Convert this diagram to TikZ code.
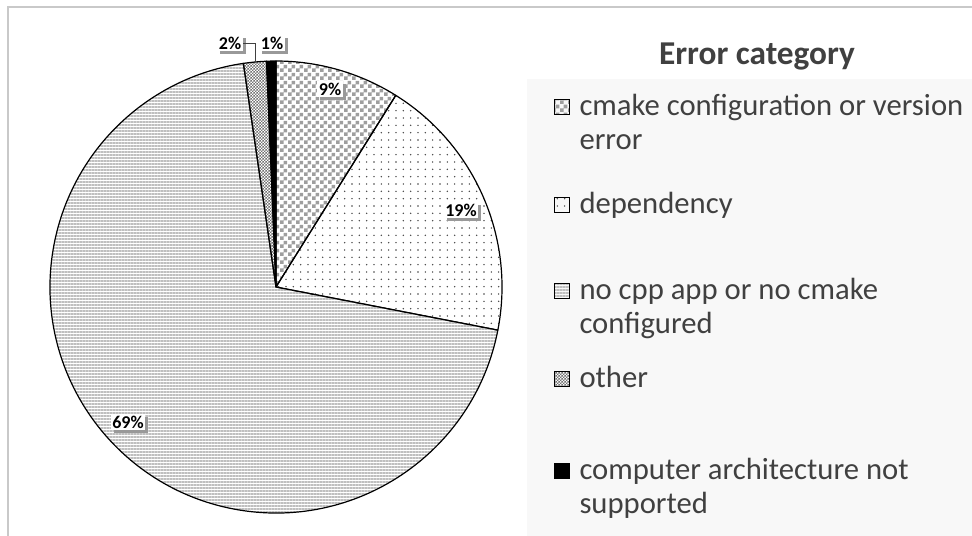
\documentclass[tikz,border=0pt]{standalone}
\usepackage{fontspec}
\setmainfont{Carlito}
\usetikzlibrary{patterns,patterns.meta,shadows,positioning}

\definecolor{framegray}{HTML}{C9C9C9}
\definecolor{legendbg}{HTML}{F8F8F8}
\definecolor{legendtxt}{HTML}{404040}

% checker fills for the slices
\pgfdeclarepatternformonly{coarse checker}{\pgfpointorigin}{\pgfqpoint{6pt}{6pt}}{\pgfqpoint{6pt}{6pt}}{%
  \pgfpathrectangle{\pgfpointorigin}{\pgfqpoint{3pt}{3pt}}%
  \pgfpathrectangle{\pgfqpoint{3pt}{3pt}}{\pgfqpoint{3pt}{3pt}}%
  \pgfusepath{fill}}
\pgfdeclarepatternformonly{fine checker}{\pgfpointorigin}{\pgfqpoint{2.2pt}{2.2pt}}{\pgfqpoint{2.2pt}{2.2pt}}{%
  \pgfpathrectangle{\pgfpointorigin}{\pgfqpoint{1.1pt}{1.1pt}}%
  \pgfpathrectangle{\pgfqpoint{1.1pt}{1.1pt}}{\pgfqpoint{1.1pt}{1.1pt}}%
  \pgfusepath{fill}}

\tikzset{every picture/.style={line width=0.75pt}}

\begin{document}
\begin{tikzpicture}[x=0.75pt,y=0.75pt,yscale=-1,xscale=1,
  slice/.style={draw=black, line width=0.9pt, line join=round},
  cmakefill/.style={pattern=coarse checker, pattern color=black!38},
  depfill/.style={pattern={Dots[distance=5.5pt, radius=0.6pt]}, pattern color=black!75},
  nocppfill/.style={pattern={Lines[angle=0, distance=2.25pt, line width=1pt]}, pattern color=black!25},
  otherfill/.style={pattern=fine checker, pattern color=black!55},
  archfill/.style={fill=black},
  pct/.style={font=\bfseries\fontsize{13.5}{16}\selectfont, fill=white, inner sep=1.2pt,
    drop shadow={shadow xshift=2.2pt, shadow yshift=-2.2pt, fill=black!40, opacity=1}},
  leader/.style={draw=black!75, line width=0.75pt},
  legbox/.style={draw=black, line width=0.9pt, minimum size=11pt, inner sep=0pt},
  legtext/.style={font=\fontsize{23}{25.5}\selectfont, text=legendtxt, align=left, inner sep=0pt, anchor=base west}]
  \useasboundingbox (0,0) rectangle (972,536);

  %Shape: Legend panel
  \fill[legendbg] (527,79) rectangle (972,536);
  %Straight Lines: chart frame
  \draw[framegray, line width=1.5pt] (972,6.5) -- (7.5,6.5) -- (7.5,536);

  %Shape: Pie
  \begin{scope}[shift={(276,287)}, yscale=-1]
    \filldraw[slice, cmakefill] (0,0) -- (90:226) arc[start angle=90, end angle=58, radius=226] -- cycle;
    \filldraw[slice, depfill] (0,0) -- (58:226) arc[start angle=58, end angle=-11, radius=226] -- cycle;
    \filldraw[slice, nocppfill] (0,0) -- (-11:226) arc[start angle=-11, end angle=-261.7, radius=226] -- cycle;
    \filldraw[slice, otherfill] (0,0) -- (98.3:226) arc[start angle=98.3, end angle=92.4, radius=226] -- cycle;
    \filldraw[slice, archfill] (0,0) -- (92.4:226) arc[start angle=92.4, end angle=90, radius=226] -- cycle;
    \coordinate (lead2) at (95.3:226);
  \end{scope}

  % Text Node
  \node[pct] (p9) at (330,89) {9\%};
  % Text Node
  \node[pct] (p19) at (461,210) {19\%};
  % Text Node
  \node[pct] (p69) at (128,422) {69\%};
  % Text Node
  \node[pct] (p2) at (230,43) {2\%};
  % Text Node
  \node[pct] (p1) at (272,43) {1\%};
  %Straight Lines: leader for the small slice
  \draw[leader] (p2.east) -| (lead2);

  % Text Node
  \node[font=\bfseries\fontsize{25}{30}\selectfont, text=legendtxt] (ttl) at (757,57) {Error category};

  %Shape: legend keys
  \node[legbox, cmakefill] (k1) at (562,107) {};
  \node[legbox, depfill] (k2) at (562,205) {};
  \node[legbox, nocppfill] (k3) at (562,291) {};
  \node[legbox, otherfill] (k4) at (562,379) {};
  \node[legbox, archfill] (k5) at (562,471) {};

  % Text Node (base sits on the last line)
  \node[legtext] (t1) at (579,149) {cmake configuration or version\\error};
  \node[legtext] (t2) at (579,213) {dependency};
  \node[legtext] (t3) at (579,333) {no cpp app or no cmake\\configured};
  \node[legtext] (t4) at (579,387) {other};
  \node[legtext] (t5) at (579,513) {computer architecture not\\supported};

\end{tikzpicture}
\end{document}
